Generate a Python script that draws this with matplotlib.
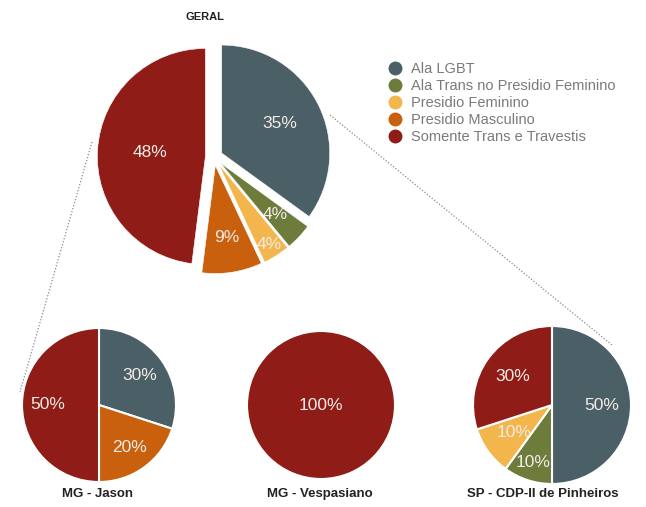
import numpy as np
import matplotlib
matplotlib.use("Agg")
import matplotlib.pyplot as plt
from matplotlib.lines import Line2D

plt.rcParams['font.family'] = ['Liberation Sans', 'DejaVu Sans']

categories = ["Ala LGBT", "Ala Trans no Presidio Feminino", "Presidio Feminino",
              "Presidio Masculino", "Somente Trans e Travestis"]
colors = ["#4a5f66", "#6d7b3b", "#f2b64c", "#c8600e", "#8f1c16"]

geral = [35, 4, 4, 9, 48]
jason = [30, 0, 0, 20, 50]
vespasiano = [0, 0, 0, 0, 100]
pinheiros = [50, 10, 10, 0, 30]

titles = ["GERAL", "MG - Jason", "MG - Vespasiano", "SP - CDP-II de Pinheiros"]

W, H = 646, 507
fig = plt.figure(figsize=(W / 100, H / 100), dpi=100)


def pie_axes(cx, cy, r, lim=1.25):
    # square axes where radius 1 == r pixels, centred at (cx, cy) px from top-left
    size = 2 * lim * r
    ax = fig.add_axes([(cx - size / 2) / W, 1 - (cy + size / 2) / H, size / W, size / H])
    ax.set_xlim(-lim, lim)
    ax.set_ylim(-lim, lim)
    ax.set_aspect('equal')
    ax.axis('off')
    return ax


def draw_pie(ax, values, pcts, explode=0.0, lw=1.5):
    vals = [v for v in values if v > 0]
    cols = [c for v, c in zip(values, colors) if v > 0]
    wedges, texts, autotexts = ax.pie(
        vals, colors=cols, startangle=90, counterclock=False,
        explode=[explode] * len(vals), autopct='%d%%',
        wedgeprops=dict(edgecolor='white', linewidth=lw),
        textprops=dict(color='#f3ece8', fontsize=12.5))
    for w, t, p in zip(wedges, autotexts, pcts):
        ang = np.deg2rad((w.theta1 + w.theta2) / 2)
        cx, cy = w.center
        t.set_position((cx + p * np.cos(ang), cy + p * np.sin(ang)))
    return wedges


ax0 = pie_axes(214, 157, 108)
draw_pie(ax0, geral, [0.6, 0.7, 0.88, 0.67, 0.51], explode=0.08, lw=0.4)
fig.text(205 / W, 1 - 17 / H, titles[0], ha='center', va='center',
         fontsize=8, fontweight='bold', color='#222222')

ax1 = pie_axes(99, 405, 77)
draw_pie(ax1, jason, [0.66, 0.68, 0.66])
ax2 = pie_axes(321, 405, 74)
draw_pie(ax2, vespasiano, [0.0])
ax3 = pie_axes(552, 405, 79)
draw_pie(ax3, pinheiros, [0.63, 0.76, 0.6, 0.62])

for x, t in zip([97, 320, 543], titles[1:]):
    fig.text(x / W, 1 - 494 / H, t, ha='center', va='center',
             fontsize=9.5, fontweight='bold', color='#222222')

# dotted connectors
for (x0, y0), (x1, y1) in [((92, 142), (20, 392)), ((330, 115), (612, 345))]:
    fig.add_artist(Line2D([x0 / W, x1 / W], [1 - y0 / H, 1 - y1 / H],
                          transform=fig.transFigure, color='#8a8a8a',
                          linestyle=(0, (1, 1.5)), linewidth=0.9))

handles = [Line2D([], [], marker='o', linestyle='', markersize=9,
                  markerfacecolor=c, markeredgecolor=c) for c in colors]
fig.legend(handles, categories, loc='upper left',
           bbox_to_anchor=(380 / W, 1 - 56 / H), frameon=False,
           fontsize=10.5, labelcolor='#7a7a7a', handletextpad=0.55,
           labelspacing=0.21, handlelength=1.2, borderaxespad=0)

fig.savefig("out.png", dpi=100)
